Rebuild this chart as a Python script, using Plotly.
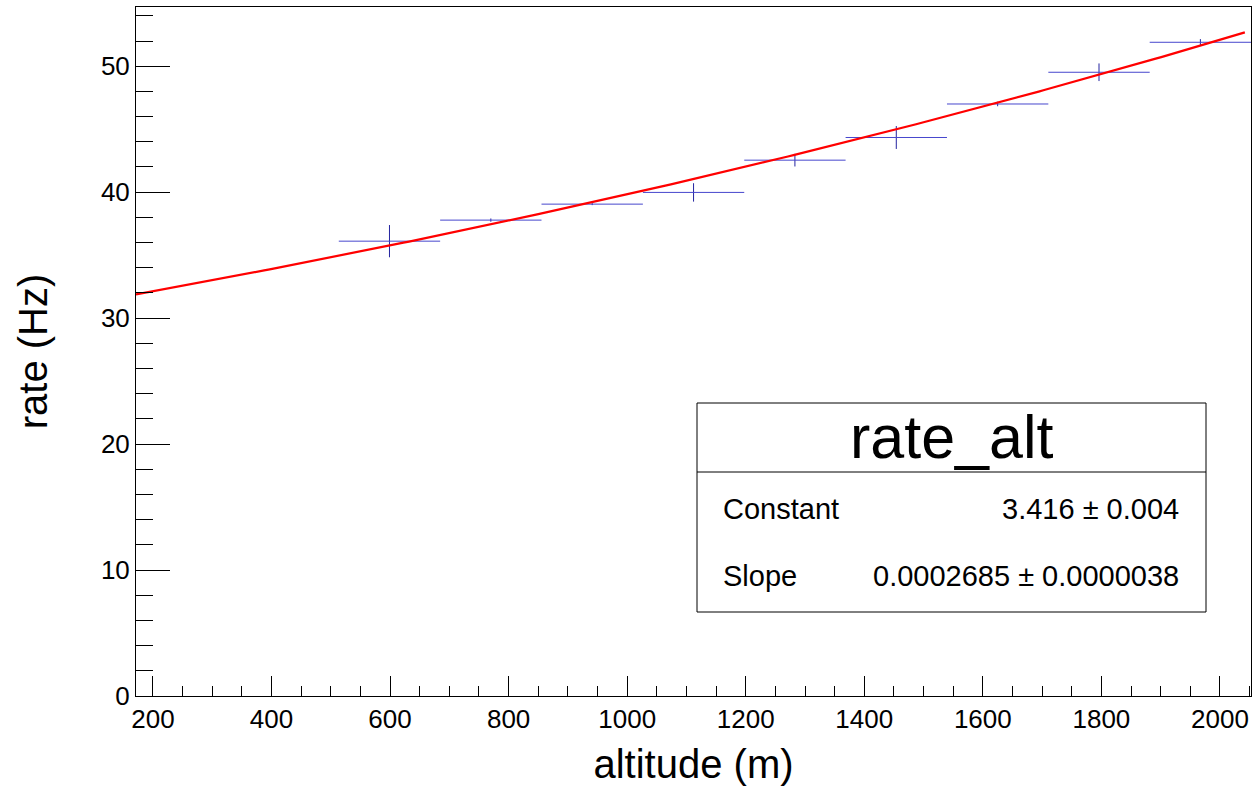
import numpy as np
import plotly.graph_objects as go

# Profile bins (altitude, m) and mean rate per bin (Hz)
bin_centers = [599, 770, 941, 1112, 1283, 1454, 1625, 1796, 1967]
bin_halfwidth = [85.5] * 9
rate = [36.11, 37.78, 39.05, 39.98, 42.54, 44.34, 47.00, 49.52, 51.90]
rate_err = [1.28, 0.13, 0.08, 0.73, 0.50, 0.91, 0.18, 0.70, 0.25]

# Exponential fit: rate = exp(Constant + Slope * altitude)
fit_constant = 3.416
fit_constant_err = 0.004
fit_slope = 0.0002685
fit_slope_err = 0.0000038
fit_range = [171.4, 2042]

x_range = [171.4, 2052.4]
y_range = [0, 54.7]

FONT = "Liberation Sans, Arial, Helvetica, sans-serif"
BLUE_H = "rgb(70,70,205)"
BLUE_V = "rgb(35,35,160)"

fig = go.Figure()

fx = np.linspace(fit_range[0], fit_range[1], 200)
fy = np.exp(fit_constant + fit_slope * fx)

fig.add_trace(go.Scatter(
    x=bin_centers, y=rate, mode="markers",
    marker=dict(size=1, color="rgba(0,0,0,0)"),
    error_x=dict(type="data", array=bin_halfwidth, symmetric=True,
                 width=0, thickness=1, color=BLUE_H),
    error_y=dict(type="data", array=rate_err, symmetric=True,
                 width=0, thickness=1, color=BLUE_V),
    showlegend=False, hoverinfo="skip",
))

fig.add_trace(go.Scatter(
    x=fx, y=fy, mode="lines",
    line=dict(color="red", width=2.2),
    showlegend=False, hoverinfo="skip",
))

# plot area in pixels
L, R, T, B = 136, 1251, 7, 696
W, H = 1255, 787


def px(x):
    return (x - L) / (R - L)


def py(y):
    return (B - y) / (B - T)


# statistics box
box_x0, box_x1, box_y0, box_y1, box_sep = 697, 1206, 403, 612, 472
fig.add_shape(type="rect", xref="paper", yref="paper",
              x0=px(box_x0), x1=px(box_x1), y0=py(box_y1), y1=py(box_y0),
              line=dict(color="black", width=1), fillcolor="white", layer="above")
fig.add_shape(type="line", xref="paper", yref="paper",
              x0=px(box_x0), x1=px(box_x1), y0=py(box_sep), y1=py(box_sep),
              line=dict(color="black", width=1), layer="above")

fig.add_annotation(xref="paper", yref="paper", x=px((box_x0 + box_x1) / 2),
                   y=py(437), text="rate_alt", showarrow=False,
                   font=dict(family=FONT, size=61, color="black"),
                   xanchor="center", yanchor="middle")
fig.add_annotation(xref="paper", yref="paper", x=px(721), y=py(509),
                   text="Constant", showarrow=False,
                   font=dict(family=FONT, size=29, color="black"),
                   xanchor="left", yanchor="middle")
fig.add_annotation(xref="paper", yref="paper", x=px(1181), y=py(509),
                   text=f"{fit_constant:.3f} \u00b1 {fit_constant_err:.3f}",
                   showarrow=False,
                   font=dict(family=FONT, size=29, color="black"),
                   xanchor="right", yanchor="middle")
fig.add_annotation(xref="paper", yref="paper", x=px(721), y=py(576),
                   text="Slope", showarrow=False,
                   font=dict(family=FONT, size=29, color="black"),
                   xanchor="left", yanchor="middle")
fig.add_annotation(xref="paper", yref="paper", x=px(1181), y=py(576),
                   text=f"{fit_slope:.7f} \u00b1 {fit_slope_err:.7f}",
                   showarrow=False,
                   font=dict(family=FONT, size=29, color="black"),
                   xanchor="right", yanchor="middle")

fig.update_layout(
    width=W, height=H,
    margin=dict(l=L, r=W - R, t=T, b=H - B),
    paper_bgcolor="white", plot_bgcolor="white",
    font=dict(family=FONT, color="black"),
    xaxis=dict(
        range=x_range, showgrid=False, zeroline=False,
        showline=True, linecolor="black", linewidth=1, mirror=True,
        tickmode="linear", tick0=0, dtick=200,
        ticks="inside", ticklen=20, tickcolor="black", tickwidth=1,
        minor=dict(ticks="inside", ticklen=10, dtick=50, tick0=0,
                   tickcolor="black", tickwidth=1, showgrid=False),
        tickfont=dict(family=FONT, size=26, color="black"),
        title=dict(text="altitude (m)", font=dict(family=FONT, size=40, color="black"),
                   standoff=16),
    ),
    yaxis=dict(
        range=y_range, showgrid=False, zeroline=False,
        showline=True, linecolor="black", linewidth=1, mirror=True,
        tickmode="linear", tick0=0, dtick=10,
        ticks="inside", ticklen=34, tickcolor="black", tickwidth=1,
        minor=dict(ticks="inside", ticklen=17, dtick=2, tick0=0,
                   tickcolor="black", tickwidth=1, showgrid=False),
        tickfont=dict(family=FONT, size=26, color="black"),
        title=dict(text="rate (Hz)", font=dict(family=FONT, size=40, color="black"),
                   standoff=40),
    ),
)

fig.write_html("out.html")
